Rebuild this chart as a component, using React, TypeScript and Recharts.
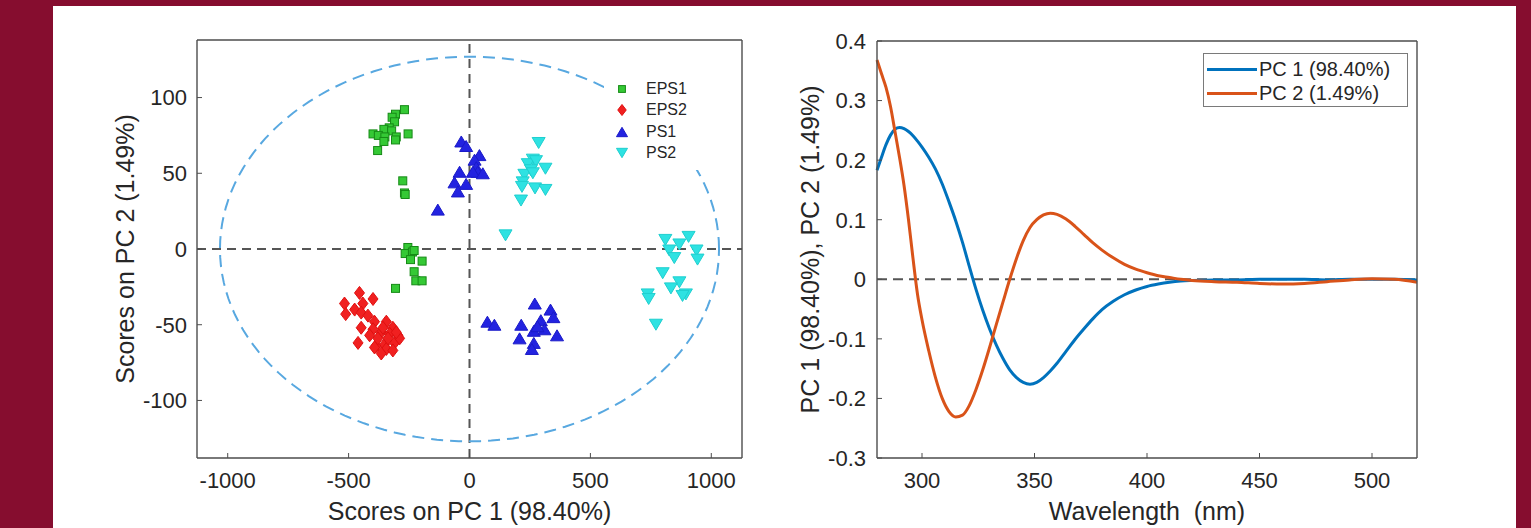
import { ScatterChart, Scatter, LineChart, Line, XAxis, YAxis, ReferenceLine, Legend } from 'recharts'

const FONT = '"Liberation Sans", Arial, Helvetica, sans-serif'
const AXIS = '#4d4d4d'
const TEXT = '#262626'

// PCA scores
const eps1 = [
  { x: -269, y: 92 }, { x: -306, y: 89 }, { x: -320, y: 87 }, { x: -310, y: 84 }, { x: -332, y: 80 },
  { x: -354, y: 79 }, { x: -322, y: 78 }, { x: -399, y: 76 }, { x: -377, y: 75 }, { x: -350, y: 74 },
  { x: -303, y: 74 }, { x: -254, y: 76 }, { x: -354, y: 71 }, { x: -306, y: 72 }, { x: -380, y: 65 },
  { x: -276, y: 45 }, { x: -269, y: 37 }, { x: -266, y: 36 }, { x: -255, y: 1 }, { x: -266, y: -3 },
  { x: -236, y: -2 }, { x: -229, y: -1 }, { x: -244, y: -7 }, { x: -196, y: -8 }, { x: -229, y: -15 },
  { x: -222, y: -21 }, { x: -196, y: -21 }, { x: -306, y: -26 },
]

const eps2 = [
  { x: -455, y: -29 }, { x: -399, y: -33 }, { x: -517, y: -36 }, { x: -441, y: -36 }, { x: -512, y: -43 },
  { x: -475, y: -40 }, { x: -448, y: -42 }, { x: -420, y: -44 }, { x: -448, y: -52 }, { x: -393, y: -48 },
  { x: -344, y: -48 }, { x: -317, y: -52 }, { x: -399, y: -53 }, { x: -413, y: -57 }, { x: -365, y: -55 },
  { x: -330, y: -56 }, { x: -296, y: -57 }, { x: -461, y: -62 }, { x: -386, y: -64 }, { x: -351, y: -63 },
  { x: -310, y: -62 }, { x: -344, y: -66 }, { x: -317, y: -67 }, { x: -365, y: -69 }, { x: -393, y: -65 },
  { x: -289, y: -59 }, { x: -337, y: -59 }, { x: -379, y: -59 }, { x: -303, y: -55 }, { x: -358, y: -52 },
]

const ps1 = [
  { x: -34, y: 71 }, { x: -14, y: 68 }, { x: 41, y: 62 }, { x: 21, y: 59 }, { x: 28, y: 54 },
  { x: 34, y: 51 }, { x: 14, y: 51 }, { x: -41, y: 51 }, { x: -62, y: 44 }, { x: -14, y: 43 },
  { x: -48, y: 38 }, { x: -131, y: 26 }, { x: 55, y: 50 },
  { x: 74, y: -48 }, { x: 103, y: -50 }, { x: 270, y: -36 }, { x: 214, y: -50 }, { x: 295, y: -47 },
  { x: 335, y: -40 }, { x: 347, y: -45 }, { x: 266, y: -54 }, { x: 310, y: -53 }, { x: 207, y: -59 },
  { x: 266, y: -62 }, { x: 362, y: -57 }, { x: 258, y: -66 }, { x: 281, y: -51 },
]

const ps2 = [
  { x: 286, y: 70 }, { x: 262, y: 59 }, { x: 241, y: 56 }, { x: 275, y: 58 }, { x: 314, y: 53 },
  { x: 254, y: 52 }, { x: 227, y: 49 }, { x: 262, y: 50 }, { x: 220, y: 44 }, { x: 217, y: 41 },
  { x: 271, y: 40 }, { x: 314, y: 39 }, { x: 213, y: 32 }, { x: 149, y: 9 },
  { x: 810, y: 6 }, { x: 906, y: 8 }, { x: 868, y: 3 }, { x: 826, y: -1 }, { x: 939, y: -1 },
  { x: 847, y: -6 }, { x: 943, y: -7 }, { x: 799, y: -16 }, { x: 868, y: -22 }, { x: 833, y: -26 },
  { x: 895, y: -30 }, { x: 881, y: -31 }, { x: 737, y: -30 }, { x: 741, y: -33 }, { x: 771, y: -50 },
]

// 95% confidence ellipse (centre and semi-axes in score units)
const ellipse = { cx: 0, cy: 0, rx: 1032, ry: 127 }
const ellipsePoints = Array.from({ length: 145 }, (_, i) => {
  const t = (i / 144) * 2 * Math.PI
  return { x: ellipse.cx + ellipse.rx * Math.cos(t), y: ellipse.cy + ellipse.ry * Math.sin(t) }
})

const scoreXTicks = [-1000, -500, 0, 500, 1000]
const scoreYTicks = [-100, -50, 0, 50, 100]

// loadings
const wavelength = [
  280, 282, 284, 286, 288, 290, 292, 294, 296, 298, 300, 303, 306, 309, 312, 315, 318, 321, 324, 327,
  330, 333, 336, 339, 342, 345, 348, 351, 354, 357, 360, 364, 368, 372, 376, 380, 385, 390, 395, 400,
  405, 410, 415, 420, 430, 440, 450, 460, 470, 480, 490, 500, 510, 520,
]
const pc1 = [
  0.183, 0.205, 0.226, 0.242, 0.252, 0.255, 0.253, 0.248, 0.241, 0.232, 0.222, 0.205, 0.185, 0.16, 0.13, 0.098, 0.062, 0.022, -0.017, -0.052,
  -0.083, -0.11, -0.133, -0.152, -0.165, -0.173, -0.176, -0.173, -0.165, -0.154, -0.141, -0.121, -0.101, -0.083, -0.066, -0.051, -0.037, -0.026, -0.018, -0.012,
  -0.008, -0.005, -0.003, -0.002, -0.001, -0.001, 0, 0, 0, -0.001, 0, 0, 0, -0.001,
]
const pc2 = [
  0.368, 0.345, 0.322, 0.29, 0.248, 0.205, 0.158, 0.1, 0.035, -0.025, -0.068, -0.12, -0.165, -0.2, -0.222, -0.231, -0.228, -0.212, -0.185, -0.152,
  -0.115, -0.076, -0.038, 0, 0.035, 0.065, 0.087, 0.1, 0.108, 0.111, 0.109, 0.101, 0.089, 0.075, 0.061, 0.049, 0.036, 0.025, 0.017, 0.011,
  0.006, 0.003, 0, -0.002, -0.004, -0.005, -0.007, -0.008, -0.007, -0.004, -0.001, 0.001, 0, -0.005,
]
const wlTicks = [300, 350, 400, 450, 500]
const loadTicks = [-0.3, -0.2, -0.1, 0, 0.1, 0.2, 0.3, 0.4]

const spectra = wavelength.map((wl, i) => ({ wl, pc1: pc1[i], pc2: pc2[i] }))

type Kind = 'square' | 'diamond' | 'up' | 'down'

const groups = [
  { name: 'EPS1', data: eps1, kind: 'square' as Kind, fill: '#35c935', edge: '#168a16' },
  { name: 'EPS2', data: eps2, kind: 'diamond' as Kind, fill: '#f02020', edge: '#e01010' },
  { name: 'PS1', data: ps1, kind: 'up' as Kind, fill: '#2323e0', edge: '#1a1ac8' },
  { name: 'PS2', data: ps2, kind: 'down' as Kind, fill: '#2ee2e2', edge: '#1fcfcf' },
]

const Marker = ({ kind, cx, cy, fill, edge, k = 1 }: any) => {
  if (kind === 'square') {
    const s = 8 * k
    return <rect x={cx - s / 2} y={cy - s / 2} width={s} height={s} fill={fill} stroke={edge} strokeWidth={1} />
  }
  if (kind === 'diamond') {
    const w = 5 * k, h = 6.5 * k
    return <polygon points={`${cx},${cy - h} ${cx + w},${cy} ${cx},${cy + h} ${cx - w},${cy}`} fill={fill} stroke={edge} strokeWidth={1} />
  }
  const w = 6.5 * k, h = 5.5 * k
  const pts = kind === 'up'
    ? `${cx},${cy - h} ${cx + w},${cy + h} ${cx - w},${cy + h}`
    : `${cx - w},${cy - h} ${cx + w},${cy - h} ${cx},${cy + h}`
  return <polygon points={pts} fill={fill} stroke={edge} strokeWidth={1} />
}

const tickStyle = { fill: TEXT, fontSize: 22, fontFamily: FONT }

const yTitle = (text: string, x: number) => ({
  content: ({ viewBox }: any) => {
    const cy = viewBox.y + viewBox.height / 2
    return (
      <text x={x} y={cy} transform={`rotate(-90, ${x}, ${cy})`} textAnchor="middle" dominantBaseline="central"
        fill={TEXT} fontSize={25} fontFamily={FONT}>{text}</text>
    )
  },
})

const xTitle = (text: string) => ({
  value: text, position: 'insideBottom' as const, offset: 8, fill: TEXT, fontSize: 25, fontFamily: FONT,
})

const ScoreLegend = () => (
  <div style={{ background: '#fff', padding: '6px 0 6px 0', width: 100, fontFamily: FONT, fontSize: 16, color: TEXT }}>
    {groups.map((g) => (
      <div key={g.name} style={{ display: 'flex', alignItems: 'center', height: 21.5 }}>
        <svg width={36} height={20} style={{ flex: 'none' }}>
          <Marker kind={g.kind} cx={18} cy={10} fill={g.fill} edge={g.edge} k={0.85} />
        </svg>
        <span style={{ marginLeft: 6 }}>{g.name}</span>
      </div>
    ))}
  </div>
)

const loadSeries = [
  { key: 'pc1', name: 'PC 1 (98.40%)', color: '#0072bd' },
  { key: 'pc2', name: 'PC 2 (1.49%)', color: '#d95319' },
]

const LoadLegend = () => (
  <div style={{ background: '#fff', border: '1px solid #7a7a7a', width: 205, height: 54, boxSizing: 'border-box',
    padding: '3px 0 0 3px', fontFamily: FONT, fontSize: 20, color: TEXT }}>
    {loadSeries.map((s) => (
      <div key={s.key} style={{ display: 'flex', alignItems: 'center', height: 24 }}>
        <div style={{ width: 50, height: 3, background: s.color, flex: 'none' }} />
        <span style={{ marginLeft: 2 }}>{s.name}</span>
      </div>
    ))}
  </div>
)

const boxAxis = { tickSize: -5, tick: false, tickLine: { stroke: AXIS }, axisLine: { stroke: AXIS, strokeWidth: 1.4 } }

export default function App() {
  return (
    <div style={{ position: 'absolute', left: 0, top: 0, width: 1531, height: 528, background: '#860d2f', overflow: 'hidden' }}>
      <div style={{ position: 'absolute', left: 53, top: 6, width: 1463, height: 522, background: '#fff' }} />

      <div style={{ position: 'absolute', left: 0, top: 0 }}>
        <ScatterChart width={760} height={528} margin={{ top: 39, right: 17, bottom: 0, left: 0 }}>
          <XAxis dataKey="x" type="number" domain={[-1127, 1127]} ticks={scoreXTicks} height={70}
            tickSize={-5} tickMargin={19} tick={tickStyle} tickLine={{ stroke: AXIS }}
            axisLine={{ stroke: AXIS, strokeWidth: 1.4 }} label={xTitle('Scores on PC 1 (98.40%)')} />
          <XAxis xAxisId="top" orientation="top" dataKey="x" type="number" domain={[-1127, 1127]} ticks={scoreXTicks}
            height={1} {...boxAxis} />
          <YAxis dataKey="y" type="number" domain={[-138, 138]} ticks={scoreYTicks} width={197}
            tickSize={-5} tickMargin={15} tick={tickStyle} tickLine={{ stroke: AXIS }}
            axisLine={{ stroke: AXIS, strokeWidth: 1.4 }} label={yTitle('Scores on PC 2 (1.49%)', 125)} />
          <YAxis yAxisId="right" orientation="right" dataKey="y" type="number" domain={[-138, 138]} ticks={scoreYTicks}
            width={1} {...boxAxis} />
          <ReferenceLine x={0} stroke="#555" strokeWidth={2} strokeDasharray="9 6" />
          <ReferenceLine y={0} stroke="#555" strokeWidth={2} strokeDasharray="9 6" />
          <Scatter name="ellipse" data={ellipsePoints} legendType="none" shape={() => <g />}
            line={{ stroke: '#58a8e0', strokeWidth: 2, strokeDasharray: '12 7' }} isAnimationActive={false} />
          {groups.map((g) => (
            <Scatter key={g.name} name={g.name} data={g.data} isAnimationActive={false}
              shape={(p: any) => <Marker kind={g.kind} cx={p.cx} cy={p.cy} fill={g.fill} edge={g.edge} />} />
          ))}
          <Legend layout="horizontal" verticalAlign="middle" align="center" content={() => <ScoreLegend />}
            wrapperStyle={{ left: 604, top: 72, width: 100 }} />
        </ScatterChart>
      </div>

      <div style={{ position: 'absolute', left: 760, top: 0 }}>
        <LineChart width={771} height={528} data={spectra} margin={{ top: 40, right: 113, bottom: 0, left: 0 }}>
          <XAxis dataKey="wl" type="number" domain={[280, 520]} ticks={wlTicks} height={70}
            tickSize={-5} tickMargin={19} tick={tickStyle} tickLine={{ stroke: AXIS }}
            axisLine={{ stroke: AXIS, strokeWidth: 1.4 }} label={xTitle('Wavelength\u00a0 (nm)')} />
          <XAxis xAxisId="top" orientation="top" dataKey="wl" type="number" domain={[280, 520]} ticks={wlTicks}
            height={1} {...boxAxis} />
          <YAxis type="number" domain={[-0.3, 0.4]} ticks={loadTicks} width={117}
            tickSize={-5} tickMargin={16} tick={tickStyle} tickLine={{ stroke: AXIS }}
            axisLine={{ stroke: AXIS, strokeWidth: 1.4 }} label={yTitle('PC 1 (98.40%), PC 2 (1.49%)', 50)} />
          <YAxis yAxisId="right" orientation="right" type="number" domain={[-0.3, 0.4]} ticks={loadTicks}
            width={1} {...boxAxis} />
          <ReferenceLine y={0} stroke="#555" strokeWidth={2} strokeDasharray="10 6" />
          {loadSeries.map((s) => (
            <Line key={s.key} type="monotone" dataKey={s.key} name={s.name} stroke={s.color} strokeWidth={3}
              dot={false} isAnimationActive={false} />
          ))}
          <Legend layout="horizontal" verticalAlign="middle" align="center" content={() => <LoadLegend />}
            wrapperStyle={{ left: 443, top: 53, width: 205 }} />
        </LineChart>
      </div>
    </div>
  )
}
